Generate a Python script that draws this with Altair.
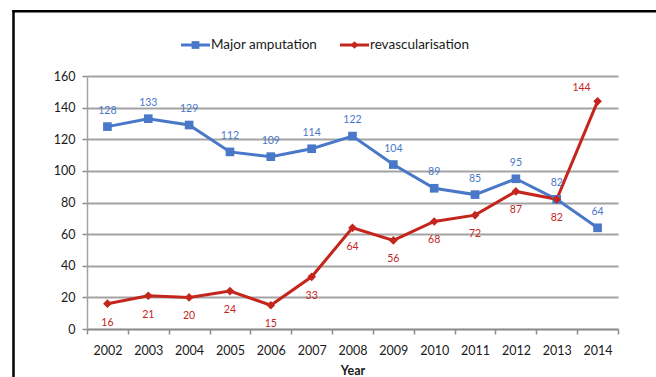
import altair as alt
import pandas as pd

years = [str(y) for y in range(2002, 2015)]
amputation = [128, 133, 129, 112, 109, 114, 122, 104, 89, 85, 95, 82, 64]
revasc = [16, 21, 20, 24, 15, 33, 64, 56, 68, 72, 87, 82, 144]
series_names = ["Major amputation", "revascularisation"]
colors = ["#4A78C8", "#C4261D"]
shapes = ["square", "diamond"]
y_ticks = [0, 20, 40, 60, 80, 100, 120, 140, 160]

FONT = "Lato"

df = pd.DataFrame({
    "year": years * 2,
    "value": amputation + revasc,
    "series": [series_names[0]] * len(years) + [series_names[1]] * len(years),
})

W, H = 531, 253
PL, PT = 87, 76

xenc = alt.X(
    "year:O",
    sort=years,
    scale=alt.Scale(type="band", paddingInner=0, paddingOuter=0),
    axis=alt.Axis(
        title="Year", labelAngle=0, tickBand="extent", grid=False,
        domainColor="#8C8C8C", domainWidth=1.5, tickColor="#8C8C8C", tickWidth=1.5,
        tickSize=5, labelPadding=10, labelFont=FONT, labelFontSize=12.5,
        labelColor="#1A1A1A", titleFont=FONT, titleFontSize=12.5,
        titleFontWeight="bold", titleColor="#1A1A1A", titlePadding=8,
    ),
)
yenc = alt.Y(
    "value:Q",
    scale=alt.Scale(domain=[0, 160], nice=False, zero=True),
    axis=alt.Axis(
        title=None, values=y_ticks, grid=True, gridColor="#A3A3A3", gridWidth=2,
        domainColor="#A3A3A3", domainWidth=1.5, tickColor="#8C8C8C", tickWidth=1.5,
        tickSize=5, labelPadding=7, labelFont=FONT, labelFontSize=12.5,
        labelColor="#1A1A1A",
    ),
)
cenc = alt.Color("series:N", scale=alt.Scale(domain=series_names, range=colors), legend=None)
senc = alt.Shape("series:N", scale=alt.Scale(domain=series_names, range=shapes), legend=None)

base = alt.Chart(df)
lines = base.mark_line(strokeWidth=3).encode(x=xenc, y=yenc, color=cenc, detail="series:N")
points = base.mark_point(filled=True, opacity=1, size=75).encode(
    x=xenc, y=yenc, color=cenc, shape=senc)

lab_style = dict(font=FONT, fontSize=10.5, baseline="middle", align="center")
blue_labels = base.transform_filter(alt.datum.series == series_names[0]).mark_text(
    dy=-16, color=colors[0], **lab_style).encode(x=xenc, y=yenc, text="value:Q")
red_labels = base.transform_filter(
    (alt.datum.series == series_names[1]) & (alt.datum.year != years[-1])
).mark_text(dy=19, color=colors[1], **lab_style).encode(x=xenc, y=yenc, text="value:Q")
red_last = base.transform_filter(
    (alt.datum.series == series_names[1]) & (alt.datum.year == years[-1])
).mark_text(dy=-13, dx=-16, color=colors[1], **lab_style).encode(x=xenc, y=yenc, text="value:Q")

# Legend (manual, Excel style: line + marker)
leg_y = 45 - PT
leg_items = []
leg_x = [181 - PL, 340 - PL]
for i, name in enumerate(series_names):
    ld = alt.Chart(pd.DataFrame({"series": [name]}))
    x0 = leg_x[i]
    leg_items.append(ld.mark_rule(strokeWidth=3, color=colors[i]).encode(
        x=alt.value(x0), x2=alt.value(x0 + 29), y=alt.value(leg_y)))
    leg_items.append(ld.mark_point(filled=True, opacity=1, size=60, shape=shapes[i],
                                   color=colors[i]).encode(
        x=alt.value(x0 + 14.5), y=alt.value(leg_y)))
    leg_items.append(ld.mark_text(align="left", baseline="middle", font=FONT,
                                  fontSize=13.5, color="#1A1A1A").encode(
        x=alt.value(x0 + 30), y=alt.value(leg_y), text="series:N"))

# Outer frame (top and left edges visible)
fd = alt.Chart(pd.DataFrame({"k": [0]}))
frame_left = fd.mark_rule(color="black", strokeWidth=2.5).encode(
    x=alt.value(13.5 - PL), x2=alt.value(13.5 - PL),
    y=alt.value(10 - PT), y2=alt.value(400 - PT))
frame_top = fd.mark_rule(color="black", strokeWidth=2.5).encode(
    x=alt.value(12.3 - PL), x2=alt.value(700 - PL),
    y=alt.value(11.3 - PT), y2=alt.value(11.3 - PT))

chart = alt.layer(
    lines, points, blue_labels, red_labels, red_last,
    *leg_items, frame_left, frame_top,
).properties(
    width=W, height=H,
    padding={"left": PL, "top": PT, "right": 656 - PL - W, "bottom": 377 - PT - H},
    autosize=alt.AutoSizeParams(type="none"),
    background="white",
).configure_view(stroke=None)

chart.save("out.html", embed_options={"renderer": "svg", "actions": False})
